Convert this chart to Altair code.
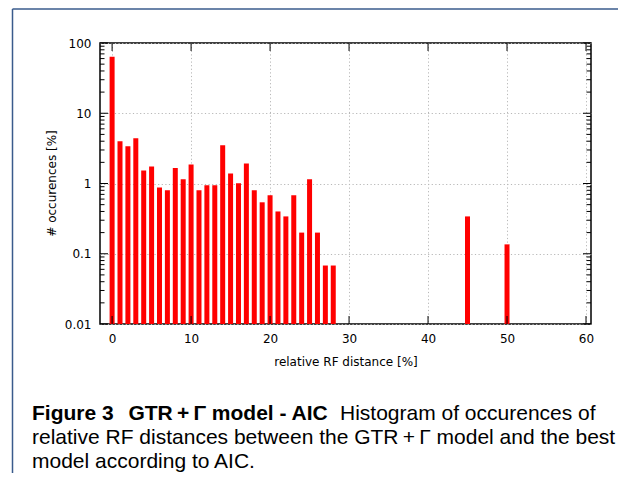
import altair as alt
import pandas as pd

# ---- data ----
rf_distance = [0, 1, 2, 3, 4, 5, 6, 7, 8, 9, 10, 11, 12, 13, 14, 15, 16, 17, 18, 19,
               20, 21, 22, 23, 24, 25, 26, 27, 28, 45, 50]
occurrences = [63.8, 4.0, 3.38, 4.39, 1.53, 1.75, 0.88, 0.80, 1.66, 1.15, 1.87, 0.80,
               0.946, 0.946, 3.49, 1.39, 1.01, 1.93, 0.80, 0.54, 0.68, 0.40, 0.34, 0.68,
               0.20, 1.15, 0.20, 0.068, 0.068, 0.34, 0.136]
x_ticks = [0, 10, 20, 30, 40, 50, 60]
y_ticks = [0.01, 0.1, 1, 10, 100]
y_minor = [m * d for d in (0.01, 0.1, 1, 10) for m in range(2, 10)]

caption_bold = "Figure 3\u2002\u2009GTR\u2009+\u2009\u0393 model - AIC"
caption_l1 = "Histogram of occurences of"
caption_l2 = "relative RF distances between the GTR\u2009+\u2009\u0393 model and the best"
caption_l3 = "model according to AIC."

W, H = 491, 281
AX_FONT = "DejaVu Sans"
CAP_FONT = "Liberation Sans"
CAP_SIZE = 21

bars_df = pd.DataFrame({"x": rf_distance, "v": occurrences})
xt_df = pd.DataFrame({"x": x_ticks})
yt_df = pd.DataFrame({"v": y_ticks})
ym_df = pd.DataFrame({"v": y_minor})
one_df = pd.DataFrame({"k": [0]})

x_scale = alt.Scale(domain=[-0.9, 60], nice=False, zero=False)
y_scale = alt.Scale(type="log", domain=[0.01, 100], nice=False)

bars = alt.Chart(bars_df).mark_bar(color="#ff0000", size=5).encode(
    x=alt.X("x:Q", scale=x_scale,
            axis=alt.Axis(values=x_ticks, grid=True, ticks=False, domain=False,
                          gridColor="#b8b8b8", gridDash=[1.2, 2.4], gridWidth=1,
                          labelFont=AX_FONT, labelFontSize=12, labelColor="black",
                          labelPadding=9, labelFlush=False,
                          title="relative RF distance [%]", titleFont=AX_FONT,
                          titleFontSize=12, titleFontWeight="normal", titleColor="black",
                          titleBaseline="middle", titleY=37.5)),
    y=alt.Y("v:Q", scale=y_scale,
            axis=alt.Axis(values=y_ticks, format="~g", grid=True, ticks=False, domain=False,
                          gridColor="#b8b8b8", gridDash=[1.2, 2.4], gridWidth=1,
                          labelFont=AX_FONT, labelFontSize=12, labelColor="black",
                          labelPadding=9, labelFlush=False,
                          title="# occurences [%]", titleFont=AX_FONT,
                          titleFontSize=12, titleFontWeight="normal", titleColor="black",
                          titleBaseline="middle", titleX=-49, titleY=140)),
    y2=alt.datum(0.01),
)

tick_kw = dict(color="black", strokeWidth=1)
y_major_l = alt.Chart(yt_df).mark_rule(**tick_kw).encode(
    y=alt.Y("v:Q", scale=y_scale), x=alt.value(0), x2=alt.value(8))
y_major_r = alt.Chart(yt_df).mark_rule(**tick_kw).encode(
    y=alt.Y("v:Q", scale=y_scale), x=alt.value(W), x2=alt.value(W - 8))
y_minor_l = alt.Chart(ym_df).mark_rule(**tick_kw).encode(
    y=alt.Y("v:Q", scale=y_scale), x=alt.value(0), x2=alt.value(4.5))
y_minor_r = alt.Chart(ym_df).mark_rule(**tick_kw).encode(
    y=alt.Y("v:Q", scale=y_scale), x=alt.value(W), x2=alt.value(W - 4.5))
x_major_b = alt.Chart(xt_df).mark_rule(**tick_kw).encode(
    x=alt.X("x:Q", scale=x_scale), y=alt.value(H), y2=alt.value(H - 8))
x_major_t = alt.Chart(xt_df).mark_rule(**tick_kw).encode(
    x=alt.X("x:Q", scale=x_scale), y=alt.value(0), y2=alt.value(8))

frame_color = "#3a5b8c"
frame_v = alt.Chart(one_df).mark_rule(color=frame_color, strokeWidth=1.5).encode(
    x=alt.value(-87.5), y=alt.value(-34), y2=alt.value(440))
frame_h = alt.Chart(one_df).mark_rule(color=frame_color, strokeWidth=1.5).encode(
    y=alt.value(-34), x=alt.value(-87.5), x2=alt.value(530))


def caption(text, x, y, bold=False):
    return alt.Chart(pd.DataFrame({"t": [text]})).mark_text(
        align="left", baseline="alphabetic", font=CAP_FONT, fontSize=CAP_SIZE,
        fontWeight="bold" if bold else "normal", color="black"
    ).encode(x=alt.value(x), y=alt.value(y), text="t:N")


cap = (caption(caption_bold, -68, 376.5, True)
       + caption(caption_l1, 240, 376.5)
       + caption(caption_l2, -68, 400.5)
       + caption(caption_l3, -68, 424.5))

chart = alt.layer(
    bars, y_major_l, y_major_r, y_minor_l, y_minor_r, x_major_b, x_major_t,
    frame_v, frame_h, cap
).properties(
    width=W, height=H,
    padding={"left": 92, "top": 35, "right": 27, "bottom": 149},
    autosize=alt.AutoSizeParams(type="none"),
).configure_view(stroke="black", strokeWidth=1.5)

chart.save("out.html", embed_options={"renderer": "svg", "actions": False})
